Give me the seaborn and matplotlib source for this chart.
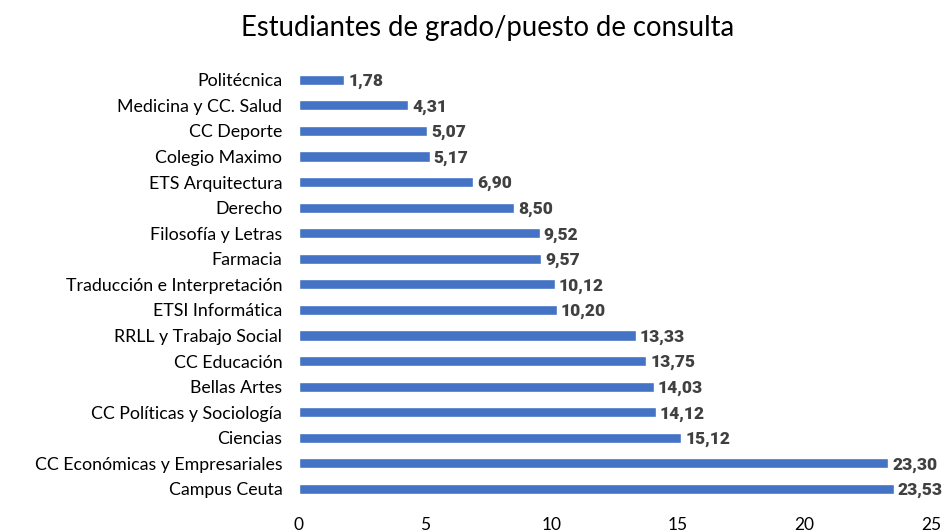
import matplotlib.pyplot as plt
import seaborn as sns
import pandas as pd

plt.switch_backend("Agg")

centros = [
    "Politécnica", "Medicina y CC. Salud", "CC Deporte", "Colegio Maximo",
    "ETS Arquitectura", "Derecho", "Filosofía y Letras", "Farmacia",
    "Traducción e Interpretación", "ETSI Informática", "RRLL y Trabajo Social",
    "CC Educación", "Bellas Artes", "CC Políticas y Sociología", "Ciencias",
    "CC Económicas y Empresariales", "Campus Ceuta",
]
ratios = [1.78, 4.31, 5.07, 5.17, 6.90, 8.50, 9.52, 9.57, 10.12, 10.20,
          13.33, 13.75, 14.03, 14.12, 15.12, 23.30, 23.53]
xticks = [0, 5, 10, 15, 20, 25]

df = pd.DataFrame({"Centro": centros, "Ratio": ratios})

sns.set_style("white")
plt.rcParams["font.family"] = ["Lato", "DejaVu Sans"]

fig = plt.figure(figsize=(9.46, 5.32), dpi=100)
ax = fig.add_axes([0.316, 0.057, 0.668, 0.817])

sns.barplot(data=df, x="Ratio", y="Centro", order=centros, color="#4472C4",
            saturation=1, width=0.4, ax=ax)

# etiquetas de valor con coma decimal
for i, v in enumerate(ratios):
    ax.annotate(f"{v:.2f}".replace(".", ","), (v, i), xytext=(3, -1),
                textcoords="offset points", va="center", ha="left",
                fontsize=12.5, fontweight="black", color="#404040",
                family=["Roboto", "Lato", "DejaVu Sans"])

ax.set_xlim(0, 25)
ax.set_xticks(xticks)
ax.set_xlabel("")
ax.set_ylabel("")
ax.tick_params(axis="x", length=0, pad=11, labelsize=12.5, colors="#000000")
ax.tick_params(axis="y", length=0, pad=12, labelsize=12.8, colors="#000000")
for s in ax.spines.values():
    s.set_visible(False)

fig.text(0.515, 0.947, "Estudiantes de grado/puesto de consulta",
         ha="center", va="center", fontsize=19.8, color="#000000")

fig.savefig("out.png", dpi=100)
plt.close(fig)
